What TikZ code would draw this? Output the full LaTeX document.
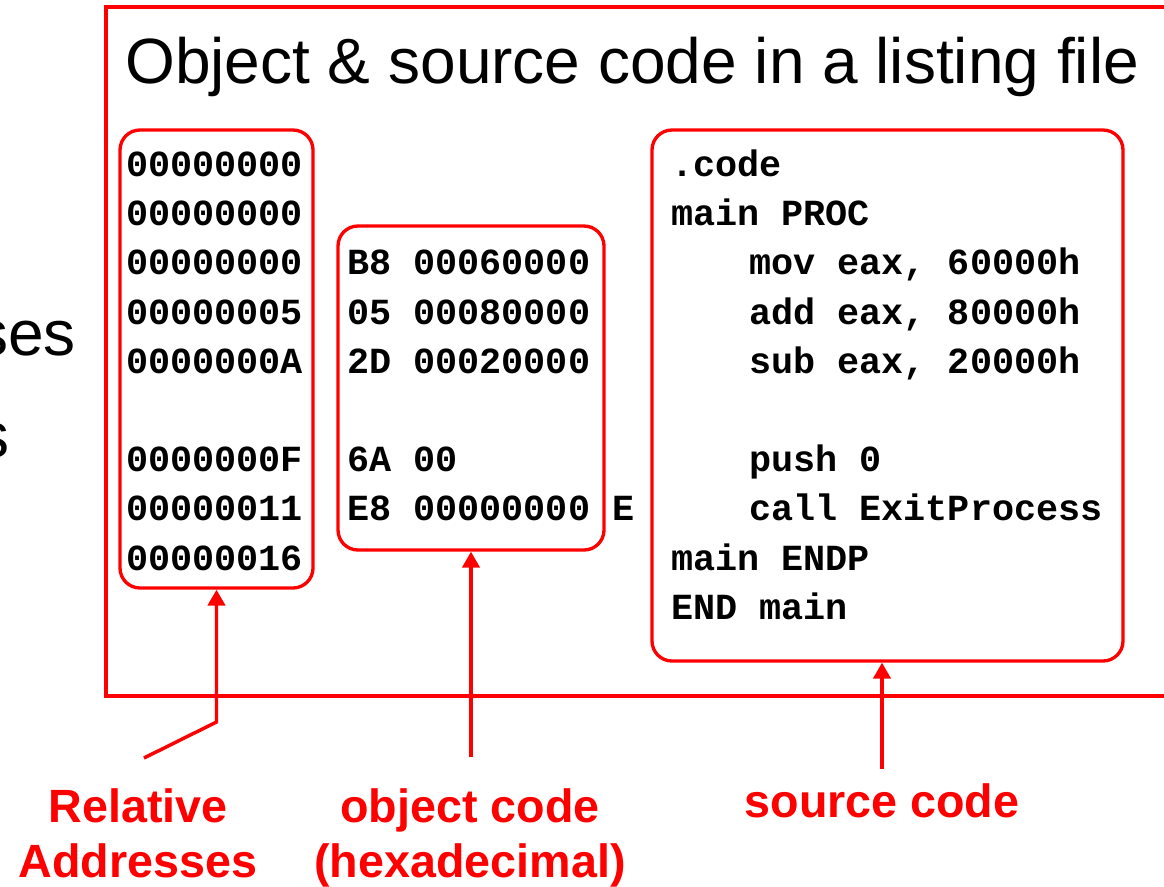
\documentclass[tikz,border=0pt]{standalone}
\usepackage{fontspec}
\setmainfont{Liberation Sans}
\newfontfamily\codefont{Liberation Mono}
\usetikzlibrary{arrows.meta,fit}
\definecolor{hot}{RGB}{255,0,0}

\begin{document}
\begin{tikzpicture}[x=0.75pt,y=-0.75pt,
  frame/.style={draw=hot,line width=3pt},
  colbox/.style={draw=hot,line width=2.5pt,rounded corners=15pt,inner sep=0pt},
  code/.style={anchor=base west,inner sep=0pt,
    font=\codefont\bfseries\fontsize{27.6}{30}\selectfont},
  title/.style={anchor=base west,inner sep=0pt,font=\fontsize{48}{56}\selectfont},
  label/.style={anchor=base,inner sep=0pt,text=hot,
    font=\bfseries\fontsize{35}{40}\selectfont},
  pointer/.style={draw=hot,line width=2.6pt,-{Triangle[width=13pt,length=12pt]}}
]
\useasboundingbox (0,0) rectangle (1164,886);

% text of the slide underneath, partly hidden
\node[title,anchor=base east] (frag1) at (76,355) {ses};
\node[title,anchor=base east] (frag2) at (10,457) {s};

% listing frame, open to the right
\draw[frame] (1180,7) -- (106,7) -- (106,696) -- (1180,696);

\node[title] (head) at (125,83) {Object \& source code in a listing file};

% column boxes
\node[colbox,fit={(120,130) (313,588)}] (addr) {};
\node[colbox,fit={(338,226) (604,550)}] (obj) {};
\node[colbox,fit={(652,130) (1123,661)}] (src) {};

% relative addresses
\foreach \r/\t in {0/00000000,1/00000000,2/00000000,3/00000005,4/0000000A,
                   6/0000000F,7/00000011,8/00000016}
  \node[code] (a\r) at (126,176.5+49.2*\r) {\t};

% object code
\node[code] (o2) at (347,{176.5+49.2*2}) {B8 00060000};
\node[code] (o3) at (347,{176.5+49.2*3}) {05 00080000};
\node[code] (o4) at (347,{176.5+49.2*4}) {2D 00020000};
\node[code] (o6) at (347,{176.5+49.2*6}) {6A 00};
\node[code] (o7) at (347,{176.5+49.2*7}) {E8 00000000 E};

% source code
\node[code] (s0) at (671,{176.5+49.2*0}) {.code};
\node[code] (s1) at (671,{176.5+49.2*1}) {main PROC};
\node[code] (s2) at (749,{176.5+49.2*2}) {mov eax, 60000h};
\node[code] (s3) at (749,{176.5+49.2*3}) {add eax, 80000h};
\node[code] (s4) at (749,{176.5+49.2*4}) {sub eax, 20000h};
\node[code] (s6) at (749,{176.5+49.2*6}) {push 0};
\node[code] (s7) at (749,{176.5+49.2*7}) {call ExitProcess};
\node[code] (s8) at (671,{176.5+49.2*8}) {main ENDP};
\node[code] (s9) at (671,{176.5+49.2*9}) {END main};

% captions
\node[label] (relA) at (138,822) {Relative};
\node[label] (relB) at (138,877) {Addresses};
\node[label] (objA) at (470,822) {object code};
\node[label] (objB) at (470,877) {(hexadecimal)};
\node[label] (srcA) at (882,817) {source code};

% pointers
\coordinate (ra-tail) at (144,758);
\coordinate (ra-bend) at (216.5,722);
\coordinate (oc-tail) at (471,757);
\coordinate (sc-tail) at (882,769);
\draw[pointer] (ra-tail) -- (ra-bend) -- (addr.south);
\draw[pointer] (oc-tail) -- (obj.south);
\draw[pointer] (sc-tail) -- (sc-tail |- src.south);
\end{tikzpicture}
\end{document}
